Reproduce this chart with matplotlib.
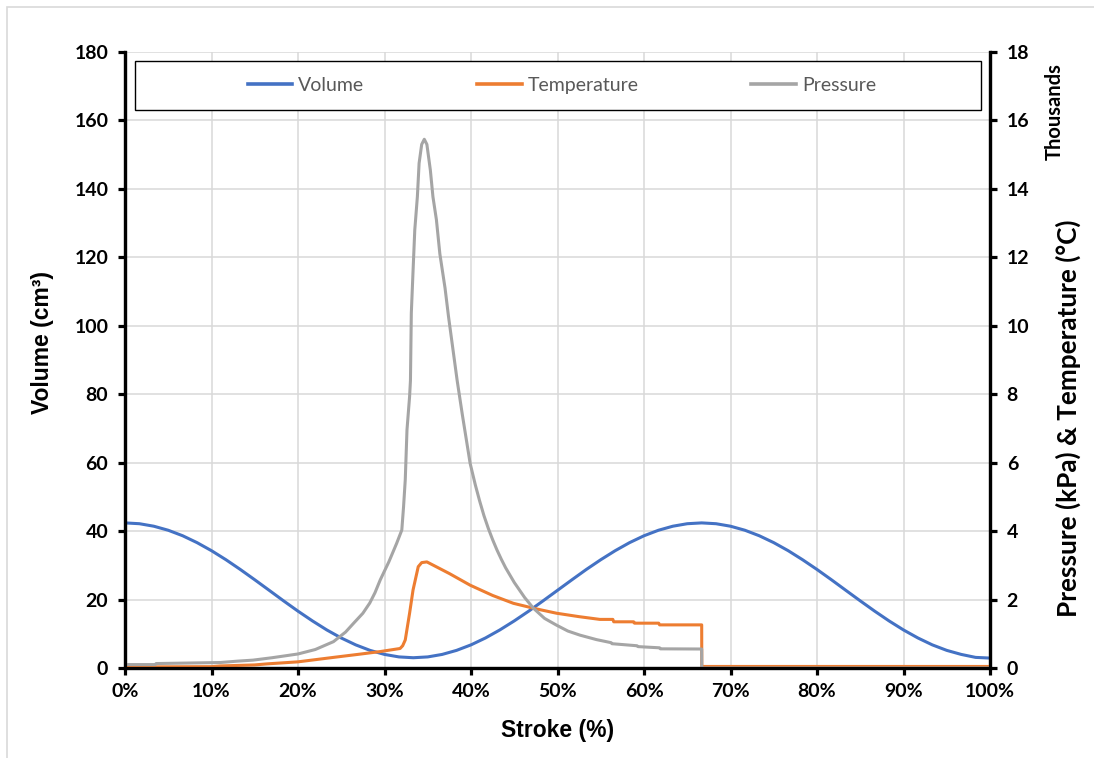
import matplotlib
matplotlib.use("Agg")
import matplotlib.pyplot as plt
from matplotlib.patches import Rectangle
from matplotlib.lines import Line2D
from matplotlib.font_manager import FontProperties
from matplotlib.ticker import FuncFormatter

# ---- data -------------------------------------------------------------
# Cylinder volume over the stroke (cm^3), sampled every 1/60 of the stroke
vol_stroke = [0.0, 1.67, 3.33, 5.0, 6.67, 8.33, 10.0, 11.67, 13.33, 15.0,
              16.67, 18.33, 20.0, 21.67, 23.33, 25.0, 26.67, 28.33, 30.0, 31.67,
              33.33, 35.0, 36.67, 38.33, 40.0, 41.67, 43.33, 45.0, 46.67, 48.33,
              50.0, 51.67, 53.33, 55.0, 56.67, 58.33, 60.0, 61.67, 63.33, 65.0,
              66.67, 68.33, 70.0, 71.67, 73.33, 75.0, 76.67, 78.33, 80.0, 81.67,
              83.33, 85.0, 86.67, 88.33, 90.0, 91.67, 93.33, 95.0, 96.67, 98.33,
              100.0]
volume = [42.4, 42.16, 41.43, 40.25, 38.64, 36.63, 34.28, 31.64, 28.79, 25.78,
          22.7, 19.62, 16.61, 13.76, 11.12, 8.77, 6.76, 5.15, 3.97, 3.24,
          3.0, 3.24, 3.97, 5.15, 6.76, 8.77, 11.12, 13.76, 16.61, 19.62,
          22.7, 25.78, 28.79, 31.64, 34.28, 36.63, 38.64, 40.25, 41.43, 42.16,
          42.4, 42.16, 41.43, 40.25, 38.64, 36.63, 34.28, 31.64, 28.79, 25.78,
          22.7, 19.62, 16.61, 13.76, 11.12, 8.77, 6.76, 5.15, 3.97, 3.1,
          2.9]

# Gas temperature (degC)
temp_stroke = [0.0, 10.0, 11.0, 15.0, 16.4, 20.0, 24.1, 27.0, 29.5, 31.8,
               32.1, 32.4, 32.9, 33.3, 33.9, 34.3, 34.9, 37.5, 39.9, 42.5,
               44.9, 47.5, 49.9, 52.5, 54.9, 56.4, 56.5, 58.8, 58.9, 61.7,
               61.8, 66.67, 66.68, 100.0]
temperature = [30, 40, 60, 90, 120, 180, 310, 400, 480, 570,
               650, 820, 1600, 2280, 2960, 3080, 3100, 2760, 2420, 2120,
               1890, 1730, 1600, 1500, 1420, 1420, 1350, 1350, 1310, 1310,
               1260, 1260, 45, 45]

# Gas pressure (kPa)
pres_stroke = [0.0, 3.5, 3.6, 11.0, 13.0, 14.8, 17.0, 20.0, 22.0, 24.1,
               25.5, 26.4, 27.5, 28.3, 28.9, 29.5, 30.5, 31.4, 32.0, 32.2,
               32.4, 32.6, 32.9, 33.0, 33.1, 33.3, 33.5, 33.8, 34.0, 34.3,
               34.6, 34.9, 35.3, 35.6, 36.0, 36.4, 37.0, 37.4, 38.4, 39.0,
               39.9, 40.5, 41.0, 41.5, 42.0, 42.5, 43.0, 43.5, 44.0, 45.0,
               46.2, 47.2, 48.5, 49.9, 51.2, 52.6, 54.5, 56.2, 56.3, 59.2,
               59.3, 61.8, 61.9, 66.67, 66.68, 100.0]
pressure = [100, 100, 130, 160, 200, 230, 300, 410, 540, 770,
            1050, 1300, 1600, 1900, 2200, 2570, 3100, 3640, 4030, 4700,
            5500, 6960, 7930, 8400, 10370, 11600, 12800, 13770, 14750, 15300,
            15450, 15300, 14550, 13770, 13100, 12100, 11100, 10270, 8400, 7400,
            5980, 5350, 4880, 4450, 4080, 3750, 3450, 3180, 2930, 2500,
            2060, 1750, 1450, 1250, 1080, 960, 830, 740, 710, 650,
            625, 590, 560, 555, 0, 0]

x_ticks = [0, 10, 20, 30, 40, 50, 60, 70, 80, 90, 100]
vol_ticks = [0, 20, 40, 60, 80, 100, 120, 140, 160, 180]
pt_ticks = [0, 2000, 4000, 6000, 8000, 10000, 12000, 14000, 16000, 18000]

# ---- style ------------------------------------------------------------
C_VOL = "#4472C4"
C_TEMP = "#ED7D31"
C_PRES = "#A5A5A5"
C_GRID = "#D9D9D9"
TICK_FONT = FontProperties(family="Lato", weight="bold", size=14)
LW = 2.2

W, H = 1094, 758
fig = plt.figure(figsize=(W / 100, H / 100), dpi=100)

# light outer chart-area border
fig.patches.append(Rectangle((7 / W, -0.05), 1.2, 1 - 7 / H + 0.05,
                             transform=fig.transFigure, fill=False,
                             edgecolor=C_GRID, linewidth=1.2))

ax = fig.add_axes([125 / W, 1 - 668 / H, 865 / W, 616 / H])
ax2 = ax.twinx()

ax.plot(vol_stroke, volume, color=C_VOL, lw=LW, solid_joinstyle="round")
ax2.plot(temp_stroke, temperature, color=C_TEMP, lw=LW, solid_joinstyle="round")
ax2.plot(pres_stroke, pressure, color=C_PRES, lw=LW, solid_joinstyle="round")

ax.set_xlim(0, 100)
ax.set_ylim(0, 180)
ax2.set_ylim(0, 18000)
ax.set_xticks(x_ticks)
ax.set_yticks(vol_ticks)
ax2.set_yticks(pt_ticks)
ax.xaxis.set_major_formatter(FuncFormatter(lambda v, p: f"{v:.0f}%"))
ax2.yaxis.set_major_formatter(FuncFormatter(lambda v, p: f"{v / 1000:.0f}"))

ax.grid(True, color=C_GRID, lw=1.1)
ax.set_axisbelow(True)

for a in (ax, ax2):
    for s in a.spines.values():
        s.set_linewidth(2.3)
        s.set_color("black")
    a.spines["top"].set_visible(False)
    a.tick_params(width=2.3, length=5, color="black", direction="out")
ax.tick_params(axis="y", pad=7)
ax.tick_params(axis="x", pad=6)
ax2.tick_params(axis="y", pad=7)

for lab in ax.get_xticklabels() + ax.get_yticklabels() + ax2.get_yticklabels():
    lab.set_fontproperties(TICK_FONT)

# axis titles
fig.text(558 / W, 1 - 730 / H, "Stroke (%)", ha="center", va="center",
         family="Liberation Sans", weight="bold", size=16.5)
fig.text(42 / W, 1 - 343 / H, "Volume (cm³)", ha="center", va="center",
         rotation=90, family="Liberation Sans", weight="bold", size=16.5)
fig.text(1068 / W, 1 - 418 / H, "Pressure (kPa) & Temperature (°C)",
         ha="center", va="center", rotation=90, family="Lato",
         weight="bold", size=18.8)
fig.text(1055 / W, 1 - 112 / H, "Thousands", ha="center", va="center",
         rotation=90, family="Lato", weight="bold", size=14.5)

# legend with a wide framed box across the top of the plot
ax2.add_patch(Rectangle((0.0116, 0.9058), 0.978, 0.0796,
                        transform=ax2.transAxes, fill=True, facecolor="white",
                        edgecolor="black", linewidth=1.0, zorder=5))
handles = [Line2D([], [], color=C_VOL, lw=2.6),
           Line2D([], [], color=C_TEMP, lw=2.6),
           Line2D([], [], color=C_PRES, lw=2.6)]
leg = ax2.legend(handles, ["Volume", "Temperature", "Pressure"], ncol=3,
                 loc="center", bbox_to_anchor=(0.505, 0.9456), frameon=False,
                 prop=dict(family="Lato", size=14), labelcolor="#595959",
                 handlelength=2.3, handletextpad=0.3, columnspacing=5.8)
leg.set_zorder(6)

fig.savefig("out.png", dpi=100)
